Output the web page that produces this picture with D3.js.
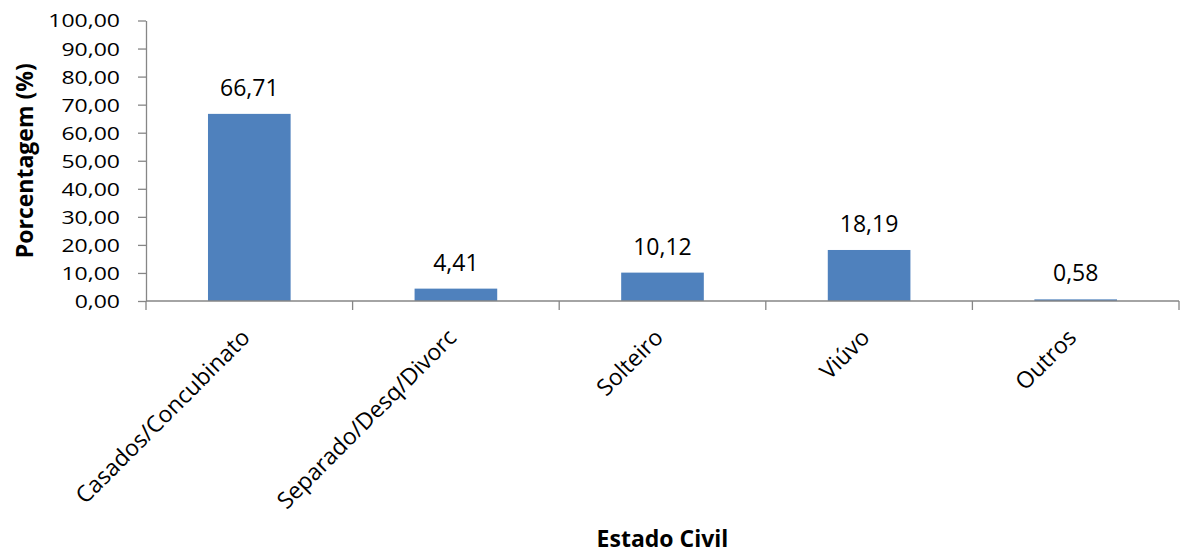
<!DOCTYPE html>
<html>
<head>
<meta charset="utf-8">
<script src="https://cdn.jsdelivr.net/npm/d3@7"></script>
<style>
  html, body { margin: 0; padding: 0; background: #fff; }
  svg { display: block; }
  text { font-family: "Open Sans", "Noto Sans", sans-serif; fill: #000; }
</style>
</head>
<body>
<svg id="chart" width="1181" height="554"></svg>
<script>
// Marital status distribution (%)
const categories = ["Casados/Concubinato", "Separado/Desq/Divorc", "Solteiro", "Viúvo", "Outros"];
const percentages = [66.71, 4.41, 10.12, 18.19, 0.58];
const yTicks = [0, 10, 20, 30, 40, 50, 60, 70, 80, 90, 100];
const xTitle = "Estado Civil";
const yTitle = "Porcentagem (%)";

const W = 1181, H = 554;
const plot = { left: 146, right: 1179, top: 20.5, bottom: 301 };
const barColor = "#4f81bd";
const axisColor = "#868686";

const ptBR = d3.formatLocale({ decimal: ",", thousands: ".", grouping: [3], currency: ["R$", ""] });
const fmt = ptBR.format(".2f");

const svg = d3.select("#chart");
svg.append("rect").attr("width", W).attr("height", H).attr("fill", "#fff");

const x = d3.scaleBand()
  .domain(categories)
  .range([plot.left, plot.right])
  .paddingInner(0.6)
  .paddingOuter(0.3);

const y = d3.scaleLinear()
  .domain([0, 100])
  .range([plot.bottom, plot.top]);

// Bars
svg.append("g")
  .selectAll("rect")
  .data(categories)
  .join("rect")
  .attr("x", d => x(d))
  .attr("width", x.bandwidth())
  .attr("y", (d, i) => y(percentages[i]))
  .attr("height", (d, i) => y(0) - y(percentages[i]))
  .attr("fill", barColor);

// Value labels
svg.append("g")
  .selectAll("text")
  .data(categories)
  .join("text")
  .attr("x", d => x(d) + x.bandwidth() / 2)
  .attr("y", (d, i) => y(percentages[i]) - 18)
  .attr("text-anchor", "middle")
  .style("font-size", "23px")
  .text((d, i) => fmt(percentages[i]));

// Y axis
const yAxis = svg.append("g")
  .attr("transform", `translate(${plot.left},0)`)
  .call(d3.axisLeft(y).tickValues(yTicks).tickFormat(fmt).tickSize(8).tickSizeOuter(0));
yAxis.select(".domain").attr("stroke", axisColor).attr("stroke-width", 1.3);
yAxis.selectAll(".tick line").attr("stroke", axisColor).attr("stroke-width", 1.3);
yAxis.selectAll(".tick text")
  .attr("x", -26)
  .attr("dy", "0.36em")
  .attr("transform", "scale(1,0.78)")
  .style("font-size", "23px")
  .style("font-family", "'Open Sans', 'Noto Sans', sans-serif")
  .attr("fill", "#000");

// X axis: baseline with ticks at the category boundaries
const xAxis = svg.append("g").attr("transform", `translate(0,${plot.bottom})`);
xAxis.append("line")
  .attr("x1", plot.left).attr("x2", plot.right)
  .attr("stroke", axisColor).attr("stroke-width", 1.3);
const bounds = categories.map(c => x(c) - x.step() * x.paddingOuter());
bounds.push(plot.right);
xAxis.selectAll("line.tick")
  .data(bounds)
  .join("line")
  .attr("class", "tick")
  .attr("x1", d => d).attr("x2", d => d)
  .attr("y1", 0).attr("y2", 9)
  .attr("stroke", axisColor).attr("stroke-width", 1.3);

// Rotated category labels
svg.append("g")
  .selectAll("text")
  .data(categories)
  .join("text")
  .attr("transform", d => `translate(${x(d) + x.bandwidth() / 2 + 2},${plot.bottom + 38}) rotate(-45)`)
  .attr("text-anchor", "end")
  .style("font-size", "23px")
  .text(d => d);

// Axis titles
svg.append("text")
  .attr("x", (plot.left + plot.right) / 2)
  .attr("y", 547)
  .attr("text-anchor", "middle")
  .style("font-size", "23px")
  .style("font-weight", "bold")
  .text(xTitle);

svg.append("text")
  .attr("transform", `translate(33,${(plot.top + plot.bottom) / 2}) rotate(-90)`)
  .attr("text-anchor", "middle")
  .style("font-size", "23px")
  .style("font-weight", "bold")
  .text(yTitle);
</script>
</body>
</html>
